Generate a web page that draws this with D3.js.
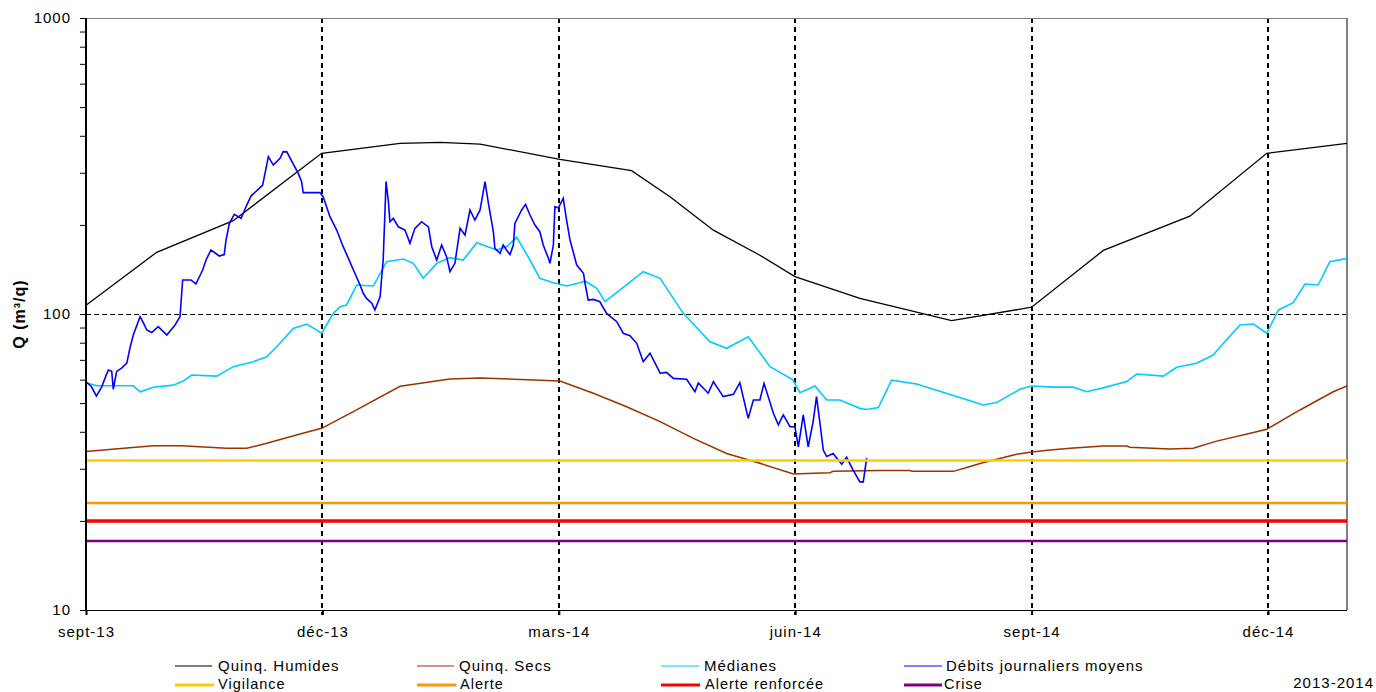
<!DOCTYPE html>
<html><head><meta charset="utf-8">
<script src="https://cdn.jsdelivr.net/npm/d3@7"></script>
<style>
body{margin:0;background:#fff;}
text{font-family:"Liberation Sans",Arial,sans-serif;}
</style>
</head><body>
<svg id="c" width="1376" height="692"></svg>
<script>
// ---------- DATA (day index from 1 Sept 2013, value in m3/s) ----------
const tickDays = [0, 91, 182, 273, 364, 455];
const tickLabels = ["sept-13","déc-13","mars-14","juin-14","sept-14","déc-14"];
const dayMax = 485.4;
const yTickLabels = ["10","100","1000"];

const quinqHumides = [[0,107],[27.2,161.6],[56.7,206.7],[90.7,349],[120.9,377],[136.3,380],[151.7,375],[182.4,333],[210,305],[224.8,249],[241.5,192],[259.4,158],[272.9,133.7],[297.9,113],[333.2,95],[364,105.4],[391.6,164],[424.9,214],[454.5,349],[485.4,377]];

const quinqSecs = [[0,34.3],[11.2,35.0],[25.9,35.9],[36.8,35.9],[54.2,35.2],[61.9,35.2],[69.6,36.6],[82.4,39.3],[90.7,41.1],[102.9,46.8],[120.9,57],[140,60.3],[151.7,60.8],[182.4,59.4],[195.3,54.0],[208.1,48.6],[221,43.3],[233.8,38.0],[246.6,33.8],[259.4,31.3],[272.3,28.8],[277.4,28.9],[286.4,29.1],[287.6,29.4],[305.6,29.6],[317.2,29.6],[317.9,29.4],[333.9,29.4],[339,30.3],[344.8,31.4],[352.5,32.6],[358.2,33.6],[364,34.2],[371.1,34.7],[378.8,35.2],[391.6,35.8],[400.6,35.8],[401.8,35.5],[417.2,35.0],[426.2,35.2],[435.2,37.2],[449.4,39.8],[454.5,40.8],[467.3,47.4],[480.1,54.6],[485.4,57.1]];

const medianes = [[0,58.6],[4.1,57.2],[18.2,57.2],[20.8,54.6],[25.9,56.6],[33.6,57.5],[37.5,59.4],[40.7,62.2],[50.3,61.7],[56.7,66.4],[64.4,69.0],[69.6,71.7],[73.4,77.5],[79.8,89.4],[85,92.5],[90.7,86.1],[95.2,100.5],[97.8,105.9],[100.3,107.3],[104.2,125.3],[110.6,124.3],[115.7,150.2],[122.1,153.4],[126,148.3],[129.8,132],[135,148.3],[140.1,155],[145.2,152.2],[150.4,174.1],[158.1,164.5],[161.9,168.8],[165.8,181.6],[170.9,152.2],[174.7,132],[179.9,127.5],[185,124.3],[190.1,127.5],[192.1,129.3],[196.6,122.1],[199.8,110.1],[214.5,139],[221,132],[229.9,100.5],[240.2,80.6],[246.6,76.6],[254.9,83.8],[263.3,66.4],[272,60],[274.8,54.2],[280.6,57.1],[285.1,51.2],[290.2,51.2],[297.9,48.0],[300.5,47.6],[305,48.3],[310.1,59.8],[319.7,58.0],[335.1,52.6],[345.4,49.3],[350.5,50.2],[359.5,55.7],[364,57.1],[372.3,56.6],[380,56.6],[385.2,54.6],[391.6,56.3],[400.6,59.1],[404.4,62.7],[414.7,61.7],[419.8,66.1],[427.5,68.2],[433.9,72.7],[437.2,78.6],[444.2,91.8],[449.4,92.5],[454.5,86.1],[459,103.2],[464.7,109.2],[469.2,126.3],[474.3,125.3],[478.8,150.2],[485.4,154.2]];

const debitsJournaliers = [[0,59],[2,57],[4,52.8],[6,56.6],[7.3,60.6],[8.6,64.7],[9.9,64],[10.5,55.7],[11.8,64],[13.7,65.6],[15.7,68.2],[16.9,76.6],[18.2,84.9],[20.8,97.9],[22.1,93.3],[23.4,88.3],[25.3,86.6],[27.8,90.6],[31.1,84.9],[34.3,91.8],[36.2,98.1],[37.2,130.3],[40.4,130.3],[42.3,126.3],[44.9,140.8],[46.2,152.2],[48.1,164.5],[51.3,157],[53.2,158.8],[53.9,177.8],[55.2,202.4],[57.1,217.1],[59.7,210.5],[61.6,230.4],[63.5,250.3],[66.7,265.8],[68,272.7],[70.2,340],[72.1,318.6],[74.7,335.7],[75.9,353.5],[77.3,353],[79.8,321],[81.7,298.7],[83,280],[83.6,257],[90.1,257],[91.3,248.9],[93.9,213.2],[96.5,192.1],[99,168.8],[101,154.2],[103.5,137.3],[105.5,125.3],[106.7,117.5],[108,112.9],[110,108.7],[111.2,103.2],[113.2,114.4],[114.4,152.2],[115.5,280],[116.4,239.5],[117,205],[118.3,210.5],[120.2,197.1],[122.8,192.1],[124.7,173.3],[126.6,194.7],[129.2,205],[131.8,197],[133.1,168.8],[135,152.2],[136.9,171],[138.8,156.2],[140.1,139],[142,148.3],[144,194.7],[145.9,184.8],[147.8,224.6],[149.7,207.7],[151.7,224.6],[153.6,280],[154.9,236.6],[156.8,189.7],[157.4,166.7],[159.4,160.3],[160.6,171],[161.9,164.5],[163.2,158.8],[164.5,171],[165.1,202.4],[167.7,224.6],[169.2,234.7],[170.9,216],[172.8,199.7],[174.7,189.7],[176,171],[178,154.2],[178.6,148.3],[179.9,171],[180.5,230.4],[181.8,228],[183.7,245.9],[185,207.7],[186.3,178],[188.9,146.3],[191.5,137.3],[192.1,127],[193.3,111.5],[195.3,112],[197.8,110],[200.4,100.5],[204.3,94.2],[206.8,86.1],[209.4,84.5],[212,79.6],[214.5,69.0],[217.1,73.7],[221,63.1],[223.5,63.5],[226.1,60.6],[231.2,60.2],[234.4,54.6],[235.7,58.5],[239.5,54.0],[241.5,59.1],[245.3,52.6],[249.2,53.5],[251.7,58.6],[254.9,44.4],[256.9,51.2],[259.4,51.2],[261,58.3],[264.6,46.2],[266.5,42.2],[268.4,45.6],[271,41.6],[272.9,41.6],[274.2,35.6],[276.1,45.6],[278,35.6],[279.9,43.3],[281.2,52.6],[282.5,43],[283.8,34.7],[285.1,33.0],[287.6,33.8],[290.9,31.1],[292.8,32.8],[295.3,29.7],[297.9,27.1],[299.2,27.1],[300.5,32.6]];

const thresholdNames = ["Vigilance","Alerte","Alerte renforcée","Crise"];
const thresholdValues = [32, 23, 20, 17.1];

// ---------- STYLE ----------
const thresholdColors = ["#FFCC00","#FF9900","#FF0000","#800080"];
const thresholdWidths = [2.5, 2.5, 3.5, 2.5];

const svg = d3.select("#c");
const L = 86, R = 1347, T = 18, B = 610;
const x = d3.scaleLinear().domain([0, dayMax]).range([L, R]);
const y = d3.scaleLog().domain([10, 1000]).range([B, T]);

svg.append("rect").attr("width",1376).attr("height",692).attr("fill","#fff");

svg.append("defs").append("clipPath").attr("id","plot")
  .append("rect").attr("x",L).attr("y",T).attr("width",R-L).attr("height",B-T);

// grid: horizontal dashed at 100
svg.append("line").attr("x1",L).attr("x2",R).attr("y1",Math.round(y(100))+0.5).attr("y2",Math.round(y(100))+0.5)
  .attr("stroke","#000").attr("stroke-width",1).attr("stroke-dasharray","5,3");

// vertical dashed
svg.selectAll(".vg").data(tickDays.slice(1)).enter().append("line")
  .attr("x1",d=>Math.round(x(d))).attr("x2",d=>Math.round(x(d)))
  .attr("y1",T).attr("y2",B+5)
  .attr("stroke","#000").attr("stroke-width",2).attr("stroke-dasharray","5,4");

// frame: top and right gray
svg.append("line").attr("x1",L).attr("x2",R).attr("y1",T+0.5).attr("y2",T+0.5).attr("stroke","#808080").attr("stroke-width",1);
svg.append("line").attr("x1",R).attr("x2",R).attr("y1",T).attr("y2",B).attr("stroke","#808080").attr("stroke-width",2);

// series
const g = svg.append("g").attr("clip-path","url(#plot)");
const line = d3.line().x(d=>x(d[0])).y(d=>y(d[1]));
g.append("path").datum(quinqHumides).attr("d",line).attr("fill","none").attr("stroke","#000").attr("stroke-width",1.3);
g.append("path").datum(quinqSecs).attr("d",line).attr("fill","none").attr("stroke","#993300").attr("stroke-width",1.5);
g.append("path").datum(medianes).attr("d",line).attr("fill","none").attr("stroke","#00CCFF").attr("stroke-width",1.6);
g.append("path").datum(debitsJournaliers).attr("d",line).attr("fill","none").attr("stroke","#0000FF").attr("stroke-width",1.6);

thresholdValues.forEach((v,i)=>{
  g.append("path").datum([[0,v],[dayMax,v]]).attr("d",line).attr("fill","none")
   .attr("stroke",thresholdColors[i]).attr("stroke-width",thresholdWidths[i]);
});

// axes
const yTicks = [];
[10,100].forEach(dec=>{ for(let k=1;k<10;k++) yTicks.push(dec*k); });
yTicks.push(1000);
const yAxis = d3.axisLeft(y).tickValues(yTicks).tickSize(6).tickPadding(9)
  .tickFormat(d => { const i=[10,100,1000].indexOf(d); return i>=0 ? yTickLabels[i] : ""; });
const ya = svg.append("g").attr("transform",`translate(${L},0)`).call(yAxis);
ya.select(".domain").remove();
ya.selectAll("line").attr("stroke","#000");
ya.selectAll("text").attr("font-size",15).attr("letter-spacing","1px").attr("fill","#000");
svg.append("line").attr("x1",L).attr("x2",L).attr("y1",T).attr("y2",B).attr("stroke","#000").attr("stroke-width",2);

const xAxis = d3.axisBottom(x).tickValues(tickDays).tickSize(5).tickPadding(11)
  .tickFormat((d,i)=>tickLabels[i]);
const xa = svg.append("g").attr("transform",`translate(0,${B})`).call(xAxis);
xa.select(".domain").remove();
xa.selectAll("line").attr("stroke","#000").attr("stroke-width",2);
xa.selectAll("text").attr("font-size",15).attr("letter-spacing","1px").attr("fill","#000");
svg.append("line").attr("x1",L).attr("x2",R).attr("y1",B+0.5).attr("y2",B+0.5).attr("stroke","#000").attr("stroke-width",1);

// y title
svg.append("text").attr("transform","translate(24.5,314) rotate(-90)")
  .attr("text-anchor","middle").attr("font-size",16).attr("font-weight","bold")
  .attr("letter-spacing","1px").text("Q (m³/q)");

// legend
const legendItems = [
  {name:"Quinq. Humides", color:"#000", w:1, x1:175, x2:212, tx:218, row:0},
  {name:"Quinq. Secs", color:"#993300", w:1, x1:417, x2:454, tx:459, row:0},
  {name:"Médianes", color:"#00CCFF", w:1, x1:661, x2:699, tx:704, row:0},
  {name:"Débits journaliers moyens", color:"#0000FF", w:1, x1:904, x2:942, tx:946, row:0}
];
thresholdNames.forEach((n,i)=>{
  legendItems.push({name:n, color:thresholdColors[i], w:3, x1:[175,417,661,904][i], x2:[214,456,700,942][i], tx:[218,460,705,944][i], row:1});
});
const rowY = [666, 685];
const rowBase = [671, 689];
legendItems.forEach(it=>{
  svg.append("line").attr("x1",it.x1).attr("x2",it.x2).attr("y1",rowY[it.row]).attr("y2",rowY[it.row])
    .attr("stroke",it.color).attr("stroke-width",it.w);
  svg.append("text").attr("x",it.tx).attr("y",rowBase[it.row]).attr("font-size",it.row ? 14.5 : 15)
    .attr("letter-spacing","1px").attr("fill","#000").text(it.name);
});
svg.append("text").attr("x",1374).attr("y",688).attr("text-anchor","end").attr("font-size",15)
  .attr("letter-spacing","1px").attr("fill","#000").text("2013-2014");
</script>
</body></html>
